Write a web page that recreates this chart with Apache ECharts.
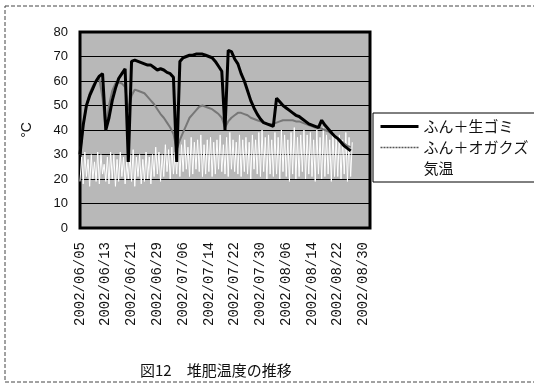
<!DOCTYPE html>
<html>
<head>
<meta charset="utf-8">
<script src="https://cdn.jsdelivr.net/npm/echarts@6/dist/echarts.min.js"></script>
<style>
  html, body { margin: 0; padding: 0; background: #fff; }
  #chart { width: 534px; height: 384px; }
</style>
</head>
<body>
<div id="chart"></div>
<script>
// Date labels shown every 8th day on the horizontal axis
const tickLabels = ['2002/06/05', '2002/06/13', '2002/06/21', '2002/06/29', '2002/07/06', '2002/07/14',
  '2002/07/22', '2002/07/30', '2002/08/06', '2002/08/14', '2002/08/22', '2002/08/30'];
const tickStep = 8;

const seriesNames = ['ふん＋生ゴミ', 'ふん＋オガクズ', '気温'];

// Daily compost temperature, manure + kitchen waste (°C), day 0 = 2002/06/05
const manureGarbage = [
  30, 42, 50, 54, 57, 60, 62, 63, 40, 45,
  52, 57, 61, 63, 65, 27, 68, 68.5, 68, 67.5,
  67, 66.5, 66.5, 65.5, 64.5, 65, 64.5, 63.5, 63, 61.5,
  27, 68, 69.5, 70, 70.5, 70.5, 71, 71, 71, 70.5,
  70, 69.5, 68, 66, 64, 40, 72.5, 72, 69, 67,
  63, 60, 56, 52, 49, 46.5, 44.5, 43, 42.5, 42,
  41.5, 53, 51.5, 50, 49, 48, 47, 46, 45.5, 44.5,
  43.5, 42.5, 42, 41.5, 41, 44, 42, 40.5, 39, 37.5,
  36.5, 35, 33.5, 32.5, 31.5
];

// Daily compost temperature, manure + sawdust (°C)
const manureSawdust = [
  30, 42, 50, 55, 58, 60, 61, 53, 40, 50,
  56, 59, 59.5, 59, 57.5, 48, 54, 56.5, 56, 55.5,
  55, 53.5, 52, 50.5, 48.5, 46.5, 45, 43, 41, 38.5,
  32, 36, 39, 42, 45, 46.5, 48, 49.5, 50, 49.5,
  49, 48.5, 47.5, 46.5, 45, 41, 43.5, 45, 46, 47,
  47, 46.5, 46, 45, 44.5, 44, 43.5, 43, 42.5, 42.5,
  42.5, 43, 43.5, 44, 44, 44, 44, 43.5, 43.5, 43,
  42.5, 42, 41.5, 41, 41, 40.5, 40, 39.5, 38.5, 37.5,
  36.5, 35.5, 34.5, 33.5, 33
];

// Daily air temperature extremes (°C)
const airMin = [
  19, 18, 21, 17, 20, 19, 18, 22, 19, 18,
  20, 17, 19, 21, 18, 20, 19, 17, 21, 18,
  19, 20, 18, 21, 22, 19, 21, 23, 20, 22,
  22, 21, 23, 24, 21, 22, 24, 23, 21, 22,
  23, 21, 22, 24, 23, 22, 21, 24, 23, 22,
  21, 23, 22, 20, 24, 22, 21, 23, 20, 22,
  21, 22, 20, 23, 21, 19, 22, 20, 21, 23,
  20, 22, 21, 19, 22, 20, 21, 22, 19, 21,
  21, 20, 22, 19, 21
];
const airMax = [
  29, 31, 28, 30, 27, 31, 30, 26, 29, 31,
  30, 28, 31, 29, 27, 30, 32, 29, 30, 28,
  31, 29, 30, 33, 31, 30, 34, 32, 33, 31,
  35, 34, 36, 33, 37, 35, 36, 38, 34, 36,
  37, 35, 36, 38, 34, 37, 39, 36, 35, 38,
  36, 37, 35, 38, 36, 39, 40, 37, 38, 36,
  39, 37, 40, 38, 36, 39, 41, 37, 38, 40,
  38, 39, 36, 40, 37, 41, 38, 36, 39, 37,
  38, 36, 39, 37, 35
];

const dayPairs = values => values.map((v, i) => [i, v]);
const airSeries = [];
airMin.forEach((lo, i) => {
  airSeries.push([i, lo]);
  airSeries.push([i + 0.5, airMax[i]]);
});

const chart = echarts.init(document.getElementById('chart'), null, { renderer: 'canvas' });

const labelFont = 'Liberation Mono';
const jpFont = '"Noto Sans CJK JP", "Noto Sans", sans-serif';
const noMarker = { color: 'rgba(0,0,0,0)', borderColor: 'rgba(0,0,0,0)', borderWidth: 0 };

chart.setOption({
  animation: false,
  backgroundColor: '#ffffff',
  grid: {
    left: 80, right: 164, top: 32, bottom: 156,
    show: true,
    backgroundColor: '#b8b8b8',
    borderColor: '#000',
    borderWidth: 3
  },
  legend: {
    orient: 'vertical',
    left: 373, top: 113,
    padding: [6, 6, 6, 6],
    itemWidth: 38, itemHeight: 14, itemGap: 6,
    borderColor: '#000', borderWidth: 1,
    backgroundColor: '#fff',
    itemStyle: noMarker,
    textStyle: { fontFamily: jpFont, fontSize: 15, color: '#111' },
    data: [
      { name: seriesNames[0], itemStyle: noMarker, lineStyle: { width: 3, color: '#000' } },
      { name: seriesNames[1], itemStyle: noMarker, lineStyle: { type: [2, 1], width: 1.5, color: '#555' } },
      { name: seriesNames[2], itemStyle: noMarker }
    ]
  },
  xAxis: {
    type: 'value',
    min: 0, max: 90, interval: tickStep,
    splitLine: { show: false },
    axisLine: { show: false },
    axisTick: { show: false },
    axisLabel: {
      rotate: 90, margin: 14,
      fontFamily: labelFont, fontSize: 14, color: '#111',
      formatter: v => (v % tickStep === 0 && tickLabels[v / tickStep]) || ''
    }
  },
  yAxis: {
    type: 'value',
    min: 0, max: 80, interval: 10,
    name: '°C',
    nameLocation: 'middle', nameGap: 46,
    nameTextStyle: { fontFamily: 'Liberation Sans', fontSize: 14, color: '#111' },
    axisLine: { show: false },
    axisTick: { show: false },
    splitLine: { show: true, lineStyle: { color: '#000', width: 1 } },
    axisLabel: { fontFamily: 'Liberation Sans', fontSize: 13, color: '#111', margin: 12 }
  },
  series: [
    {
      name: seriesNames[2], type: 'line', data: airSeries,
      symbol: 'none', z: 1,
      lineStyle: { color: '#ffffff', width: 1 }, itemStyle: { color: '#ffffff' }
    },
    {
      name: seriesNames[1], type: 'line', data: dayPairs(manureSawdust),
      symbol: 'none', z: 2,
      lineStyle: { color: '#777777', width: 2 }, itemStyle: { color: '#777' }
    },
    {
      name: seriesNames[0], type: 'line', data: dayPairs(manureGarbage),
      symbol: 'none', z: 3,
      lineStyle: { color: '#000000', width: 3 }, itemStyle: { color: '#000' }
    }
  ],
  graphic: [
    {
      type: 'rect', silent: true,
      shape: { x: 5, y: 6, width: 540, height: 376 },
      style: { fill: 'none', stroke: '#444', lineWidth: 1, lineDash: [4, 2] }
    },
    {
      type: 'text', left: 140, top: 363,
      style: { text: '図12　堆肥温度の推移', font: '15px ' + jpFont, fill: '#111' }
    }
  ]
});
</script>
</body>
</html>
